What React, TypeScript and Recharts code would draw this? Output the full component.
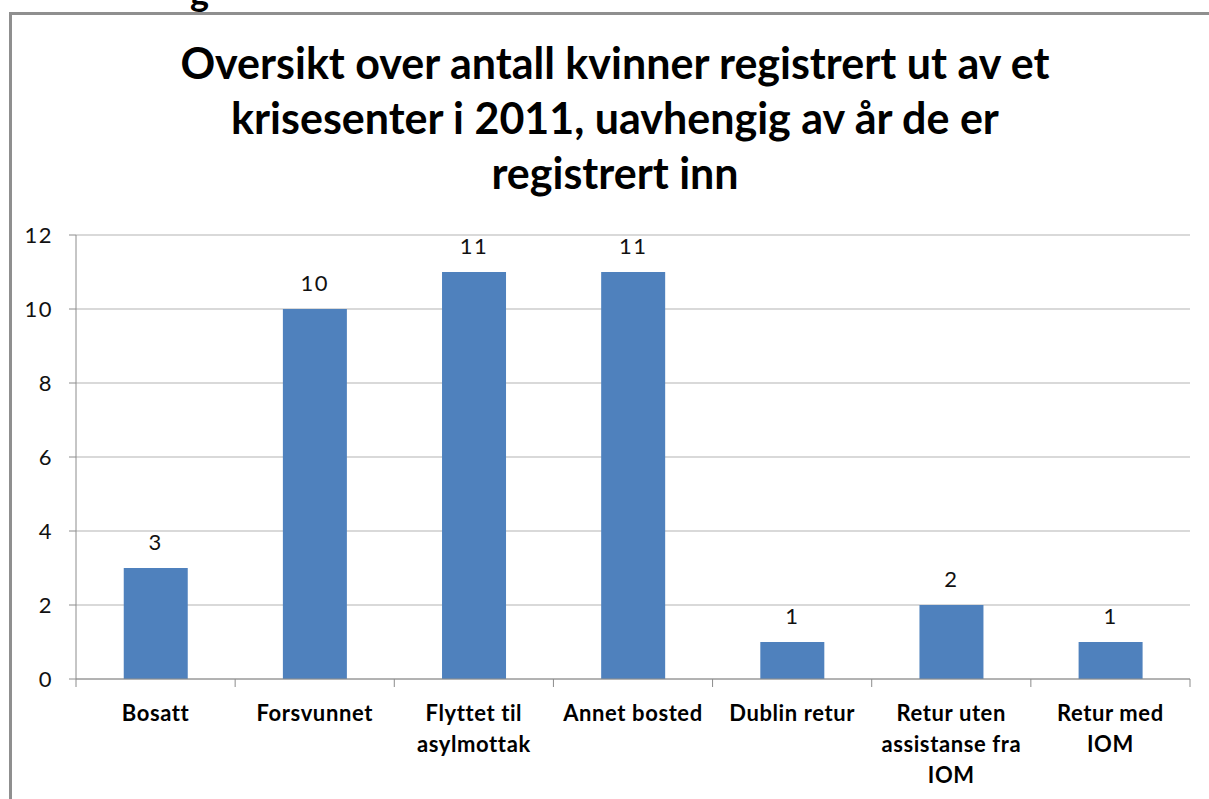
import React from 'react';
import { BarChart, Bar, XAxis, YAxis, CartesianGrid, LabelList } from 'recharts';

const categories = [
  'Bosatt',
  'Forsvunnet',
  'Flyttet til\nasylmottak',
  'Annet bosted',
  'Dublin retur',
  'Retur uten\nassistanse fra\nIOM',
  'Retur med\nIOM',
];
const values = [3, 10, 11, 11, 1, 2, 1];
const yTicks = [0, 2, 4, 6, 8, 10, 12];
const titleLines = [
  'Oversikt over antall kvinner registrert ut av et',
  'krisesenter i 2011, uavhengig av år de er',
  'registrert inn',
];

const data = categories.map((c, i) => ({ name: c, value: values[i] }));

const W = 1209;
const H = 799;
const M = { top: 235, right: 19, left: 0, bottom: 10 };
const Y_W = 76;
const X_H = 110;
const PLOT_W = W - M.left - M.right - Y_W;
const BAND = PLOT_W / categories.length;
const FONT = 'Lato, "Open Sans", sans-serif';

const CatTick = (props: any) => {
  const { x, y, payload, index } = props;
  const lines = String(payload.value).split('\n');
  return (
    <g>
      <line x1={x - BAND / 2} x2={x - BAND / 2} y1={y - 8} y2={y} stroke="#8c8c8c" strokeWidth={1} />
      {index === categories.length - 1 && (
        <line x1={x + BAND / 2} x2={x + BAND / 2} y1={y - 8} y2={y} stroke="#8c8c8c" strokeWidth={1} />
      )}
      <text x={x} y={y} textAnchor="middle" fontFamily={FONT} fontWeight="bold" fontSize={22} letterSpacing={0.6} fill="#000">
        {lines.map((l, i) => (
          <tspan key={i} x={x} dy={i === 0 ? 34 : 31}>{l}</tspan>
        ))}
      </text>
    </g>
  );
};

export default function App() {
  return (
    <div style={{ position: 'absolute', left: 0, top: 0, width: W, height: H, overflow: 'hidden', background: '#fff' }}>
      <div style={{ position: 'absolute', left: 190, top: -30, fontFamily: FONT, fontWeight: 'bold', fontSize: 36, color: '#000' }}>g</div>
      <div style={{ position: 'absolute', left: 9, top: 12, width: W, height: H, borderLeft: '3px solid #8f8f8f', borderTop: '3px solid #8f8f8f' }} />
      <div
        style={{
          position: 'absolute',
          left: 10,
          top: 35,
          width: 1210,
          textAlign: 'center',
          fontFamily: FONT,
          fontWeight: 'bold',
          fontSize: 43,
          lineHeight: '55px',
          color: '#000',
        }}
      >
        {titleLines.map((l, i) => (
          <div key={i}>{l}</div>
        ))}
      </div>
      <div style={{ position: 'absolute', left: 0, top: 0 }}>
        <BarChart width={W} height={H} data={data} margin={M} barCategoryGap="30%">
          <CartesianGrid vertical={false} stroke="#b3b3b3" strokeWidth={1} />
          <XAxis
            dataKey="name"
            height={X_H}
            interval={0}
            tickLine={false}
            axisLine={{ stroke: '#8c8c8c' }}
            tick={<CatTick />}
          />
          <YAxis
            width={Y_W}
            domain={[0, 12]}
            ticks={yTicks}
            interval={0}
            tickSize={7}
            tickMargin={16}
            axisLine={{ stroke: '#8c8c8c' }}
            tickLine={{ stroke: '#8c8c8c' }}
            tick={{ fontFamily: FONT, fontSize: 22, fill: '#111', letterSpacing: 1.5 }}
          />
          <Bar dataKey="value" fill="#4f81bd" isAnimationActive={false}>
            <LabelList dataKey="value" position="top" offset={18} style={{ fontFamily: FONT, fontSize: 22, fill: '#111', letterSpacing: 1.5 }} />
          </Bar>
        </BarChart>
      </div>
    </div>
  );
}
